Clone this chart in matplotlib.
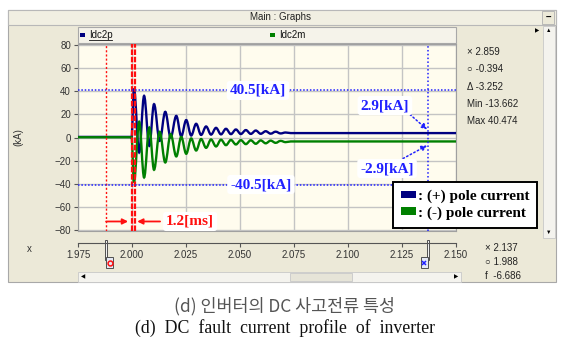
import matplotlib
matplotlib.use("Agg")
import matplotlib.pyplot as plt
from matplotlib import transforms
from matplotlib.patches import Rectangle, Patch, PathPatch
from matplotlib.path import Path

W, H = 575, 342

# Idc2p / Idc2m: time [s], current [kA] (peaks and troughs)
t = [1.975, 1.9998, 2.0009, 2.0033, 2.0056, 2.0080, 2.0102, 2.0128, 2.0154, 2.0179,
     2.0205, 2.0228, 2.0251, 2.0274, 2.0297, 2.0320, 2.0343, 2.0366, 2.0389, 2.0412,
     2.0435, 2.0458, 2.0481, 2.0504, 2.0527, 2.0550, 2.0573, 2.0596, 2.0619, 2.0642,
     2.0665, 2.0688, 2.0711, 2.0735, 2.150]
i_p = [0.5, 0.5, 42.1, -12.9, 35.8, -7.2, 28.7, -2.9, 22.1, 0.0,
       18.6, 1.0, 15.0, 1.7, 11.8, 2.2, 9.5, 2.5, 8.3, 2.7,
       7.5, 2.9, 6.9, 3.0, 6.4, 3.1, 6.0, 3.2, 5.4, 3.3,
       5.0, 3.5, 4.3, 3.8, 3.8]
i_m = [0.2, 0.2, -38.7, 13.5, -34.4, 8.6, -27.8, 4.9, -21.5, 2.9,
       -16.3, 0.5, -14.0, -0.8, -11.2, -1.3, -8.9, -1.7, -7.7, -1.9,
       -6.6, -2.1, -6.0, -2.3, -5.7, -2.4, -5.4, -2.5, -5.0, -2.7,
       -4.6, -2.9, -4.0, -3.4, -3.4]

x_ticks = [1.975, 2.000, 2.025, 2.050, 2.075, 2.100, 2.125, 2.150]
x_labels = ["1.975", "2.000", "2.025", "2.050", "2.075", "2.100", "2.125", "2.150"]
y_ticks = [-80, -60, -40, -20, 0, 20, 40, 60, 80]
fault_t = [2.0000, 2.0012]
cursor_o = 1.988
cursor_x = 2.137
peak = 40.5
side_top = ["\u00d7 2.859", "\u25cb -0.394", "\u0394 -3.252", "Min -13.662", "Max 40.474"]
side_bot = ["\u00d7 2.137", "\u25cb 1.988", "f  -6.686"]

NAVY, GREEN, RED, BLUE = "#000080", "#008000", "#FF1010", "#2020FF"
plt.rcParams["font.family"] = ["Liberation Sans", "DejaVu Sans"]


def wave(t, v):
    # smooth curve through the read extrema (flat tangent at each peak)
    verts, codes = [(t[0], v[0])], [Path.MOVETO]
    for a, b, va, vb in zip(t[:-1], t[1:], v[:-1], v[1:]):
        d = 0.36 * (b - a)
        verts += [(a + d, va), (b - d, vb), (b, vb)]
        codes += [Path.CURVE4] * 3
    return Path(verts, codes)


fig = plt.figure(figsize=(W / 100, H / 100), dpi=100)
bg = fig.add_axes([0, 0, 1, 1], zorder=0)
bg.set_xlim(0, W); bg.set_ylim(H, 0); bg.axis("off")

# window chrome (pixel coords)
bg.add_patch(Rectangle((8, 10), 548, 272, fc="#ECE9D8", ec="#A8A8A8", lw=0.8))
bg.add_patch(Rectangle((8, 10), 548, 15, fc="#F1EFE2", ec="#B8B8B8", lw=0.8))
bg.text(280, 17.5, "Main : Graphs", fontsize=7, ha="center", va="center", color="#222")
bg.add_patch(Rectangle((542, 11), 12, 13, fc="#ECE9D8", ec="#B0B0B0", lw=0.6))
bg.text(548, 17.5, "\u2013", fontsize=7, ha="center", va="center", fontweight="bold")
bg.add_patch(Rectangle((78, 27), 378, 16, fc="#F5F3EA", ec="#A8A8A8", lw=0.8))
bg.add_patch(Rectangle((80, 33), 5, 4, fc=NAVY, ec="none"))
bg.text(89, 35, "Idc2p", fontsize=7, va="center", color="#111")
bg.plot([89, 112], [39.5, 39.5], color="#111", lw=0.6)
bg.add_patch(Rectangle((270, 33), 5, 4, fc=GREEN, ec="none"))
bg.text(279, 35, "Idc2m", fontsize=7, va="center", color="#111")
bg.text(537, 31, "\u25b6", fontsize=4, ha="center", va="center")
bg.add_patch(Rectangle((543, 26), 12, 212, fc="#F4F3EE", ec="#C8C8C8", lw=0.6))
bg.text(549, 31, "\u25b2", fontsize=4, ha="center", va="center")
bg.text(549, 232, "\u25bc", fontsize=4, ha="center", va="center")
bg.add_patch(Rectangle((78, 272), 383, 10, fc="#F4F3EE", ec="#C8C8C8", lw=0.6))
bg.add_patch(Rectangle((290, 273), 62, 8, fc="#E6E4D8", ec="#C8C8C8", lw=0.6))
bg.text(83, 277, "\u25c0", fontsize=4, ha="center", va="center")
bg.text(456, 277, "\u25b6", fontsize=4, ha="center", va="center")

bg.text(18, 137, "(kA)", fontsize=7, rotation=90, ha="center", va="center", color="#333")
bg.text(29, 249, "x", fontsize=7, ha="center", va="center", color="#333")
for k, s in enumerate(side_top):
    bg.text(467, 52 + 17.3 * k, s, fontsize=7, va="center", color="#222")
for k, s in enumerate(side_bot):
    bg.text(485, 248 + 14 * k, s, fontsize=7, va="center", color="#222")

bg.text(285, 306, "(d) 인버터의 DC 사고전류 특성", fontsize=12.5, ha="center", va="center",
        family=["Noto Sans CJK KR", "DejaVu Sans"], fontweight="light", color="#555")
bg.text(285, 328, "(d)  DC  fault  current  profile  of  inverter", fontsize=12.8,
        ha="center", va="center", family="Liberation Serif", color="#111")

# main graph
ax = fig.add_axes([78 / W, 1 - 231 / H, 378 / W, 187 / H], zorder=2)
ax.set_facecolor("#FFFCEE")
ax.set_xlim(1.975, 2.150); ax.set_ylim(-80.5, 80.5)
ax.set_xticks(x_ticks); ax.set_xticklabels([])
ax.set_yticks(y_ticks)
ax.tick_params(axis="x", length=0)
ax.tick_params(axis="y", length=3, width=0.8, labelsize=7, pad=2, colors="#555", labelcolor="#333")
ax.grid(color="#C4C4C4", lw=1)
for s in ax.spines.values():
    s.set_color("#A0A0A0")

ax.add_patch(PathPatch(wave(t, i_p), fc="none", ec=NAVY, lw=1.7, zorder=3))
ax.add_patch(PathPatch(wave(t, i_m), fc="none", ec=GREEN, lw=1.7, zorder=3))

ax.axvline(cursor_o, color=RED, lw=1, ls=(0, (1.5, 1.5)), zorder=4)
for ft in fault_t:
    ax.axvline(ft, color=RED, lw=1.6, dashes=(2.5, 0.8), zorder=4)
ax.axvline(cursor_x, color=BLUE, lw=1.1, ls=(0, (1, 1.5)), zorder=4)
for lvl in (peak, -peak):
    ax.axhline(lvl, color=BLUE, lw=1.1, ls=(0, (1, 1.2)), zorder=4)

lab = dict(family="Liberation Serif", fontweight="bold", fontsize=11, ha="center", va="center", zorder=6)
box = dict(boxstyle="round,pad=0.2", fc="white", ec="none")
ax.text(2.0583, peak, "%.1f[kA]" % peak, color=BLUE, bbox=box, **lab)
ax.text(2.0597, -peak, "-%.1f[kA]" % peak, color=BLUE, bbox=box, **lab)
ax.text(2.1171, 27.5, "2.9[kA]", color=BLUE, bbox=box, **lab)
ax.text(2.1181, -26.7, "-2.9[kA]", color=BLUE, bbox=box, **lab)
ax.text(2.0269, -72.3, "1.2[ms]", color=RED, bbox=box, **lab)

dot_arrow = dict(arrowstyle="-|>", color=BLUE, lw=1.1, ls=":", mutation_scale=8, shrinkA=0, shrinkB=0)
ax.annotate("", xy=(2.1366, 6.9), xytext=(2.1287, 19.8), arrowprops=dot_arrow, zorder=5)
ax.annotate("", xy=(2.1366, -6.9), xytext=(2.1255, -18.1), arrowprops=dot_arrow, zorder=5)
red_arrow = dict(arrowstyle="-|>", color=RED, lw=1.3, mutation_scale=8, shrinkA=0, shrinkB=0)
ax.annotate("", xy=(1.9982, -72.3), xytext=(cursor_o, -72.3), arrowprops=red_arrow, zorder=5)
ax.annotate("", xy=(2.0024, -72.3), xytext=(2.0130, -72.3), arrowprops=red_arrow, zorder=5)

leg = ax.legend([Patch(fc=NAVY, ec="none"), Patch(fc=GREEN, ec="none")],
                [": (+) pole current", ": (-) pole current"],
                loc="upper left", bbox_to_anchor=(393 / W, 1 - 182 / H), bbox_transform=fig.transFigure,
                borderaxespad=0, prop=dict(family="Liberation Serif", weight="bold", size=11),
                fancybox=False, framealpha=1, edgecolor="black", handlelength=1.0, handleheight=0.4,
                handletextpad=0.15, labelspacing=0.22, borderpad=0.5)
leg.get_frame().set_linewidth(1.4)
leg.set_zorder(10)

# x axis strip under the graph
axx = fig.add_axes([78 / W, 1 - 243 / H, 378 / W, 0.0001], zorder=2)
axx.set_xlim(1.975, 2.150)
axx.set_xticks(x_ticks); axx.set_xticklabels(x_labels)
axx.set_yticks([])
axx.patch.set_alpha(0)
for k in ("top", "left", "right"):
    axx.spines[k].set_visible(False)
axx.spines["bottom"].set_color("#555")
axx.tick_params(axis="x", length=3, width=0.8, labelsize=7, pad=2, colors="#555", labelcolor="#333")

# cursor markers on the x strip (x in data, y in pixels)
mk = transforms.blended_transform_factory(ax.transData, bg.transData)
for ct, c, sym, side in ((cursor_o, RED, "o", 1), (cursor_x, BLUE, "x", -1)):
    bg.add_patch(Rectangle((ct - 0.0006, 240), 0.0012, 20, transform=mk, fc="#F2F2F2", ec="#505050", lw=0.7))
    x0 = ct if side > 0 else ct - 0.0034
    bg.add_patch(Rectangle((x0, 257), 0.0034, 11, transform=mk, fc="#E4E8F4", ec="#505050", lw=0.7))
    bg.plot([x0 + 0.0017], [262.5], transform=mk, marker=sym, ms=3.5, mfc="none", mec=c, mew=1.1)

fig.savefig("out.png", dpi=100, facecolor="white")
